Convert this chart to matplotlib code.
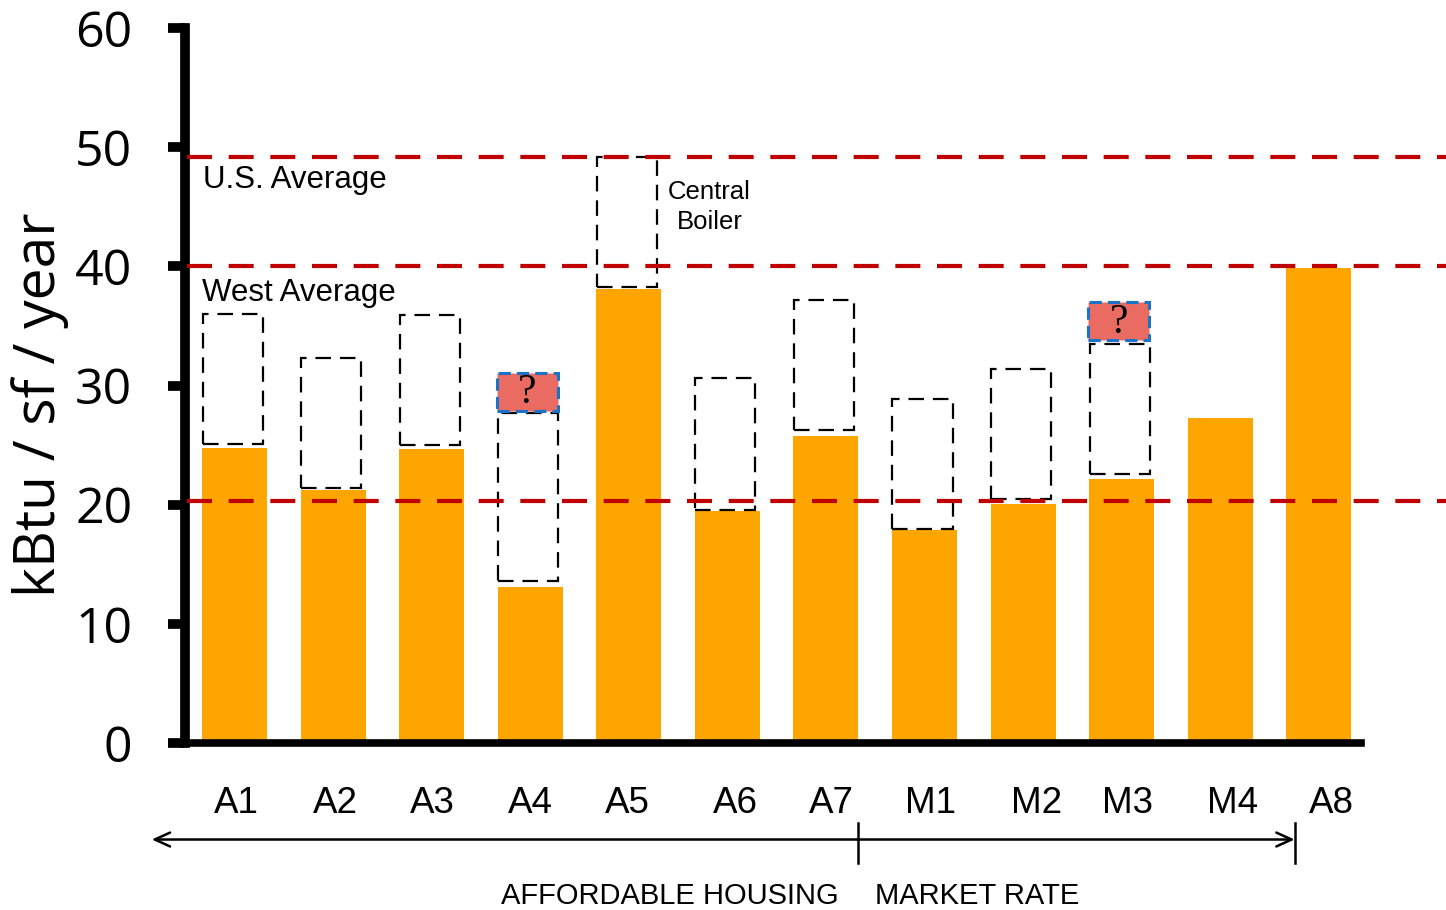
import numpy as np
import matplotlib
matplotlib.use("Agg")
import matplotlib.pyplot as plt
from matplotlib.patches import Rectangle

# data
sites = ["A1", "A2", "A3", "A4", "A5", "A6", "A7", "M1", "M2", "M3", "M4", "A8"]
measured = [24.8, 21.2, 24.7, 13.1, 38.1, 19.5, 25.8, 17.9, 20.1, 22.2, 27.3, 39.9]
# dashed "range" boxes (bottom, top); None where there is no box
box_low = [25.1, 21.4, 25.0, 13.6, 38.3, 19.6, 26.3, 18.0, 20.5, 22.6, None, None]
box_high = [36.0, 32.3, 35.9, 27.7, 49.2, 30.6, 37.2, 28.9, 31.4, 33.5, None, None]
# unknown extra range ("?") on top of some boxes
unknown_sites = ["A4", "M3"]
unknown_low = [27.9, 33.8]
unknown_high = [31.1, 37.0]

us_average = 49.2
west_average = 40.0
third_line = 20.3

bar_color = "#FFA500"
red = "#C00000"

plt.rcParams["font.family"] = ["Liberation Sans", "DejaVu Sans"]

fig = plt.figure(figsize=(14.46, 9.10), dpi=100)
ax = fig.add_axes([0.128, 0.1835, 0.813, 0.7855])

x = np.arange(len(sites))
ax.bar(x, measured, width=0.66, color=bar_color, zorder=2)

# dashed boxes
for i, (lo, hi) in enumerate(zip(box_low, box_high)):
    if lo is None:
        continue
    ax.add_patch(Rectangle((i - 0.325, lo), 0.61, hi - lo, fill=False,
                           edgecolor="black", linewidth=1.6,
                           linestyle=(0, (7, 4)), zorder=3))

for name, lo, hi in zip(unknown_sites, unknown_low, unknown_high):
    i = sites.index(name)
    ax.add_patch(Rectangle((i - 0.34, lo), 0.62, hi - lo, facecolor="#EA6B62",
                           edgecolor="#1A73C6", linewidth=2.2,
                           linestyle=(0, (4, 2)), zorder=4))
    ax.text(i - 0.03, (lo + hi) / 2 - 0.1, "?", ha="center", va="center",
            fontsize=30, family="Liberation Serif", zorder=5)

# reference lines, running past the end of the axis
for yv in [us_average, west_average, third_line]:
    ax.plot([-0.48, 12.3], [yv, yv], color=red, linewidth=3,
            dashes=(6, 4), clip_on=False, zorder=3)

ax.text(-0.32, 47.3, "U.S. Average", fontsize=22.5, va="center", ha="left")
ax.text(-0.33, 37.8, "West Average", fontsize=22.5, va="center", ha="left")
ax.text(4.82, 45.0, "Central\nBoiler", fontsize=18.5, va="center", ha="center",
        linespacing=1.3)

ax.set_xlim(-0.502, 11.425)
ax.set_ylim(0, 60)
ax.set_yticks(range(0, 61, 10))
# the labels in the original sit a little right of some bars
nudge = np.array([2, 2, 1, 0, -1, 8, 5, 6, 13, 6, 12, 13]) / 98.6
ax.set_xticks(x + nudge)
ax.set_xticklabels(sites, fontsize=26.5)
for lab in ax.get_yticklabels():
    lab.set_family("Open Sans")
    lab.set_fontsize(36)
ax.tick_params(axis="x", length=0, pad=31)
ax.tick_params(axis="y", length=12, width=7, pad=26)

for s in ["top", "right"]:
    ax.spines[s].set_visible(False)
ax.spines["left"].set_linewidth(7)
ax.spines["bottom"].set_linewidth(5.5)

fig.text(0.028, 0.555, "kBtu / sf / year", rotation=90, ha="center",
         va="center", fontsize=41, family="Open Sans")

# group arrows under the axis
arrow_y = -8.1
mid = 6.32
ax.annotate("", xy=(-0.84, arrow_y), xytext=(mid, arrow_y),
            arrowprops=dict(arrowstyle="->,head_length=1.1,head_width=0.5",
                            color="black", lw=1.8, shrinkA=0, shrinkB=0),
            annotation_clip=False)
ax.annotate("", xy=(10.755, arrow_y), xytext=(mid, arrow_y),
            arrowprops=dict(arrowstyle="->,head_length=1.1,head_width=0.5",
                            color="black", lw=1.8, shrinkA=0, shrinkB=0),
            annotation_clip=False)
for xv in [mid, 10.755]:
    ax.plot([xv, xv], [-6.7, -10.1], color="black", lw=1.8, clip_on=False)

ax.text(4.42, -12.85, "AFFORDABLE HOUSING", fontsize=21, ha="center",
        va="center", clip_on=False)
ax.text(7.53, -12.85, "MARKET RATE", fontsize=21, ha="center",
        va="center", clip_on=False)

fig.savefig("out.png", dpi=100)
